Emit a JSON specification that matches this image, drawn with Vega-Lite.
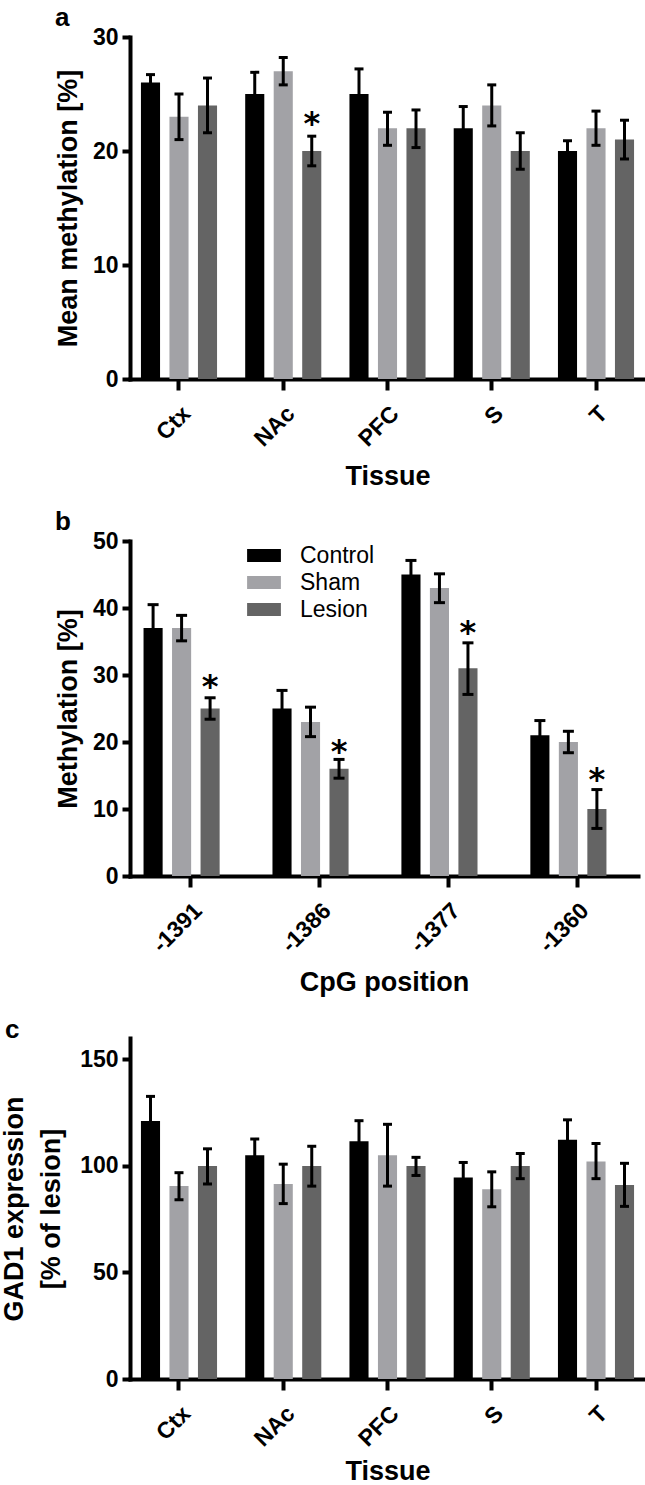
{
  "$schema": "https://vega.github.io/schema/vega-lite/v6.json",
  "padding": {"left": 0, "top": 4, "right": 0, "bottom": 0},
  "background": "white",
  "datasets": {
    "a": [
      {"tissue": "Ctx", "group": "Control", "mean": 26, "lo": 25.3, "hi": 26.7},
      {"tissue": "Ctx", "group": "Sham", "mean": 23, "lo": 21, "hi": 25},
      {"tissue": "Ctx", "group": "Lesion", "mean": 24, "lo": 21.6, "hi": 26.4},
      {"tissue": "NAc", "group": "Control", "mean": 25, "lo": 23.1, "hi": 26.9},
      {"tissue": "NAc", "group": "Sham", "mean": 27, "lo": 25.8, "hi": 28.2},
      {"tissue": "NAc", "group": "Lesion", "mean": 20, "lo": 18.7, "hi": 21.3, "star": 23},
      {"tissue": "PFC", "group": "Control", "mean": 25, "lo": 22.8, "hi": 27.2},
      {"tissue": "PFC", "group": "Sham", "mean": 22, "lo": 20.5, "hi": 23.4},
      {"tissue": "PFC", "group": "Lesion", "mean": 22, "lo": 20.3, "hi": 23.6},
      {"tissue": "S", "group": "Control", "mean": 22, "lo": 20.1, "hi": 23.9},
      {"tissue": "S", "group": "Sham", "mean": 24, "lo": 22.2, "hi": 25.8},
      {"tissue": "S", "group": "Lesion", "mean": 20, "lo": 18.4, "hi": 21.6},
      {"tissue": "T", "group": "Control", "mean": 20, "lo": 19.1, "hi": 20.9},
      {"tissue": "T", "group": "Sham", "mean": 22, "lo": 20.5, "hi": 23.5},
      {"tissue": "T", "group": "Lesion", "mean": 21, "lo": 19.3, "hi": 22.7}
    ],
    "b": [
      {"pos": "-1391", "group": "Control", "mean": 37, "lo": 33.5, "hi": 40.5},
      {"pos": "-1391", "group": "Sham", "mean": 37, "lo": 35.1, "hi": 38.9},
      {"pos": "-1391", "group": "Lesion", "mean": 25, "lo": 23.4, "hi": 26.6, "star": 29.3},
      {"pos": "-1386", "group": "Control", "mean": 25, "lo": 22.3, "hi": 27.7},
      {"pos": "-1386", "group": "Sham", "mean": 23, "lo": 20.8, "hi": 25.2},
      {"pos": "-1386", "group": "Lesion", "mean": 16, "lo": 14.6, "hi": 17.4, "star": 19.6},
      {"pos": "-1377", "group": "Control", "mean": 45, "lo": 42.9, "hi": 47.1},
      {"pos": "-1377", "group": "Sham", "mean": 43, "lo": 40.8, "hi": 45.1},
      {"pos": "-1377", "group": "Lesion", "mean": 31, "lo": 27.1, "hi": 34.8, "star": 37.3},
      {"pos": "-1360", "group": "Control", "mean": 21, "lo": 18.8, "hi": 23.2},
      {"pos": "-1360", "group": "Sham", "mean": 20, "lo": 18.4, "hi": 21.6},
      {"pos": "-1360", "group": "Lesion", "mean": 10, "lo": 7.1, "hi": 12.9, "star": 15.3}
    ],
    "c": [
      {"tissue": "Ctx", "group": "Control", "mean": 121, "lo": 109.3, "hi": 132.6},
      {"tissue": "Ctx", "group": "Sham", "mean": 90.5, "lo": 84.1, "hi": 96.8},
      {"tissue": "Ctx", "group": "Lesion", "mean": 100, "lo": 91.5, "hi": 108},
      {"tissue": "NAc", "group": "Control", "mean": 105, "lo": 97.4, "hi": 112.6},
      {"tissue": "NAc", "group": "Sham", "mean": 91.5, "lo": 82.3, "hi": 100.8},
      {"tissue": "NAc", "group": "Lesion", "mean": 100, "lo": 90.5, "hi": 109.2},
      {"tissue": "PFC", "group": "Control", "mean": 111.5, "lo": 101.6, "hi": 121.2},
      {"tissue": "PFC", "group": "Sham", "mean": 105, "lo": 90.5, "hi": 119.5},
      {"tissue": "PFC", "group": "Lesion", "mean": 100, "lo": 95.5, "hi": 104},
      {"tissue": "S", "group": "Control", "mean": 94.5, "lo": 87, "hi": 101.6},
      {"tissue": "S", "group": "Sham", "mean": 89, "lo": 80.8, "hi": 97.2},
      {"tissue": "S", "group": "Lesion", "mean": 100, "lo": 94, "hi": 105.8},
      {"tissue": "T", "group": "Control", "mean": 112.3, "lo": 103, "hi": 121.6},
      {"tissue": "T", "group": "Sham", "mean": 102, "lo": 94, "hi": 110.5},
      {"tissue": "T", "group": "Lesion", "mean": 91, "lo": 81, "hi": 101.2}
    ]
  },
  "bounds": "flush",
  "spacing": 162,
  "resolve": {"scale": {"color": "independent"}, "legend": {"color": "independent"}},
  "vconcat": [
    {
      "width": 515,
      "height": 342,
      "title": {"text": "a", "dx": -75},
      "data": {"name": "a"},
      "encoding": {
        "x": {"field": "tissue", "type": "nominal", "sort": ["Ctx", "NAc", "PFC", "S", "T"], "scale": {"paddingInner": 0.27, "paddingOuter": 0.105}, "axis": {"title": "Tissue"}},
        "xOffset": {"field": "group", "type": "nominal", "sort": ["Control", "Sham", "Lesion"], "scale": {"paddingInner": 0.33, "paddingOuter": 0}}
      },
      "layer": [
        {
          "mark": {"type": "bar"},
          "encoding": {
            "y": {"field": "mean", "type": "quantitative", "scale": {"domain": [0, 30]}, "axis": {"title": "Mean methylation [%]", "values": [0, 10, 20, 30], "titlePadding": 10}},
            "color": {"field": "group", "type": "nominal", "scale": {"domain": ["Control", "Sham", "Lesion"], "range": ["#000000", "#a2a2a6", "#646464"]}, "legend": null}
          }
        },
        {"mark": {"type": "rule", "color": "#000", "strokeWidth": 3}, "encoding": {"y": {"field": "lo", "type": "quantitative"}, "y2": {"field": "hi"}}},
        {"mark": {"type": "tick", "color": "#000", "thickness": 3, "size": 9, "opacity": 1}, "encoding": {"y": {"field": "lo", "type": "quantitative"}}},
        {"mark": {"type": "tick", "color": "#000", "thickness": 3, "size": 9, "opacity": 1}, "encoding": {"y": {"field": "hi", "type": "quantitative"}}},
        {"transform": [{"filter": "isValid(datum.star)"}], "mark": {"type": "text", "text": "*", "font": "DejaVu Sans", "fontSize": 32, "fontWeight": "bold", "baseline": "middle", "dy": 7, "color": "#000"}, "encoding": {"y": {"field": "star", "type": "quantitative"}}}
      ]
    },
    {
      "width": 508,
      "height": 335,
      "title": {"text": "b", "dx": -75},
      "data": {"name": "b"},
      "encoding": {
        "x": {"field": "pos", "type": "nominal", "sort": ["-1391", "-1386", "-1377", "-1360"], "scale": {"paddingInner": 0.27, "paddingOuter": 0.105}, "axis": {"title": "CpG position"}},
        "xOffset": {"field": "group", "type": "nominal", "sort": ["Control", "Sham", "Lesion"], "scale": {"paddingInner": 0.33, "paddingOuter": 0}}
      },
      "layer": [
        {
          "mark": {"type": "bar"},
          "encoding": {
            "y": {"field": "mean", "type": "quantitative", "scale": {"domain": [0, 50]}, "axis": {"title": "Methylation [%]", "values": [0, 10, 20, 30, 40, 50], "titlePadding": 10}},
            "color": {"field": "group", "type": "nominal", "sort": ["Control", "Sham", "Lesion"], "scale": {"domain": ["Control", "Sham", "Lesion"], "range": ["#000000", "#a2a2a6", "#646464"]},
              "legend": {"orient": "none", "legendX": 121, "legendY": 1.5, "title": null, "padding": 0, "symbolType": "M-1.3,-0.5H1.3V0.5H-1.3Z", "symbolSize": 676, "symbolStrokeWidth": 0, "symbolOpacity": 1, "labelFont": "Liberation Sans", "labelFontSize": 23, "labelFontWeight": "normal", "labelColor": "#000", "labelOffset": 23, "rowPadding": 2}}
          }
        },
        {"mark": {"type": "rule", "color": "#000", "strokeWidth": 3}, "encoding": {"y": {"field": "lo", "type": "quantitative"}, "y2": {"field": "hi"}}},
        {"mark": {"type": "tick", "color": "#000", "thickness": 3, "size": 11, "opacity": 1}, "encoding": {"y": {"field": "lo", "type": "quantitative"}}},
        {"mark": {"type": "tick", "color": "#000", "thickness": 3, "size": 11, "opacity": 1}, "encoding": {"y": {"field": "hi", "type": "quantitative"}}},
        {"transform": [{"filter": "isValid(datum.star)"}], "mark": {"type": "text", "text": "*", "font": "DejaVu Sans", "fontSize": 32, "fontWeight": "bold", "baseline": "middle", "dy": 7, "color": "#000"}, "encoding": {"y": {"field": "star", "type": "quantitative"}}}
      ]
    },
    {
      "width": 515,
      "height": 341,
      "title": {"text": "c", "dx": -125},
      "data": {"name": "c"},
      "encoding": {
        "x": {"field": "tissue", "type": "nominal", "sort": ["Ctx", "NAc", "PFC", "S", "T"], "scale": {"paddingInner": 0.27, "paddingOuter": 0.105}, "axis": {"title": "Tissue", "titlePadding": 8}},
        "xOffset": {"field": "group", "type": "nominal", "sort": ["Control", "Sham", "Lesion"], "scale": {"paddingInner": 0.33, "paddingOuter": 0}}
      },
      "layer": [
        {
          "mark": {"type": "bar"},
          "encoding": {
            "y": {"field": "mean", "type": "quantitative", "scale": {"domain": [0, 150]}, "axis": {"title": ["GAD1 expression", "[% of lesion]"], "titleLineHeight": 37, "titlePadding": 14, "values": [0, 50, 100, 150]}},
            "color": {"field": "group", "type": "nominal", "scale": {"domain": ["Control", "Sham", "Lesion"], "range": ["#000000", "#a2a2a6", "#646464"]}, "legend": null}
          }
        },
        {"mark": {"type": "rule", "color": "#000", "strokeWidth": 3}, "encoding": {"y": {"field": "lo", "type": "quantitative"}, "y2": {"field": "hi"}}},
        {"mark": {"type": "tick", "color": "#000", "thickness": 3, "size": 9, "opacity": 1}, "encoding": {"y": {"field": "lo", "type": "quantitative"}}},
        {"mark": {"type": "tick", "color": "#000", "thickness": 3, "size": 9, "opacity": 1}, "encoding": {"y": {"field": "hi", "type": "quantitative"}}}
      ]
    }
  ],
  "config": {
    "view": {"stroke": null},
    "font": "Liberation Sans",
    "axis": {"domainColor": "#000", "domainWidth": 4, "domainCap": "square", "tickColor": "#000", "tickWidth": 4, "labelColor": "#000", "labelFont": "Liberation Sans", "labelFontWeight": "bold", "labelFontSize": 23, "titleColor": "#000", "titleFont": "Liberation Sans", "titleFontWeight": "bold", "titleFontSize": 27, "grid": false},
    "axisX": {"tickSize": 11, "labelAngle": -45, "labelAlign": "right", "labelBaseline": "top", "labelPadding": 12, "titlePadding": 13},
    "axisY": {"tickSize": 8, "labelPadding": 4, "titlePadding": 12},
    "title": {"anchor": "start", "frame": "group", "font": "Liberation Sans", "fontSize": 26, "fontWeight": "bold", "color": "#000", "baseline": "alphabetic", "offset": -4.5}
  }
}
